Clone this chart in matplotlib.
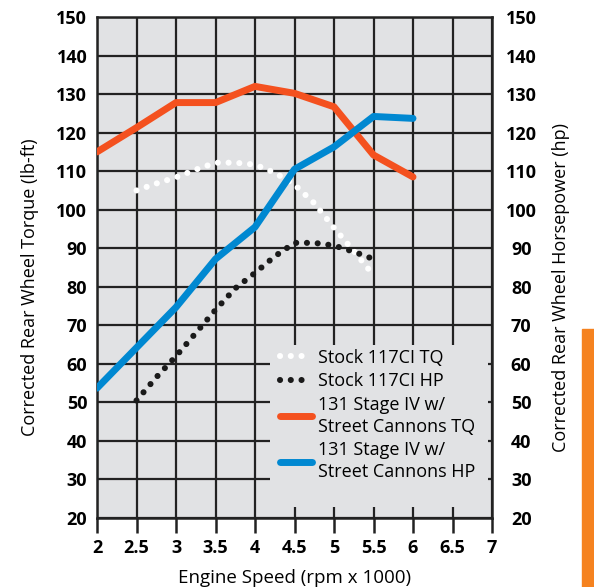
import matplotlib.pyplot as plt
from matplotlib.patches import Rectangle

# engine speed (rpm x 1000)
rpm = [2, 2.5, 3, 3.5, 4, 4.5, 5, 5.5, 6]
stage4_tq = [115, 121.3, 127.8, 127.8, 132, 130.2, 126.7, 114.2, 108.5]
stage4_hp = [53.7, 64.2, 74.7, 87.2, 95.5, 110.5, 116.3, 124.2, 123.7]

stock_rpm = [2.5, 2.75, 3, 3.25, 3.5, 3.75, 4, 4.25, 4.5, 4.75, 5, 5.25, 5.5]
stock_tq = [105, 106.8, 108.4, 110.4, 112.2, 112.2, 111.7, 109.6, 106.5, 101.7, 95.3, 89.3, 83]
stock_hp = [50.5, 56.5, 62, 68, 74, 79.6, 83.6, 87.9, 91.4, 91.4, 90.7, 89.1, 87.2]

labels = ['Stock 117CI TQ', 'Stock 117CI HP',
          '131 Stage IV w/\nStreet Cannons TQ', '131 Stage IV w/\nStreet Cannons HP']
xticks = [2, 2.5, 3, 3.5, 4, 4.5, 5, 5.5, 6, 6.5, 7]
xticklabels = ['2', '2.5', '3', '3.5', '4', '4.5', '5', '5.5', '6', '6.5', '7']
yticks = list(range(20, 151, 10))

bg = '#e1e2e4'
orange = '#f4511f'
blue = '#0088d1'
tick_font = dict(family='Open Sans', weight='bold', size=13)
label_font = 'Open Sans'

fig = plt.figure(figsize=(5.94, 5.87), dpi=100)
ax = fig.add_axes([0.1633, 0.1175, 0.665, 0.8535])
ax.set_facecolor(bg)

dots = (0, (0.01, 1.75))
ax.plot(stock_rpm, stock_tq, color='white', lw=4.4, ls=dots,
        dash_capstyle='round', label=labels[0], zorder=3)
ax.plot(stock_rpm, stock_hp, color='#1a1a1a', lw=4.4, ls=dots,
        dash_capstyle='round', label=labels[1], zorder=3)
ax.plot(rpm, stage4_tq, color=orange, lw=5, solid_capstyle='round',
        label=labels[2], zorder=3)
ax.plot(rpm, stage4_hp, color=blue, lw=5, solid_capstyle='round',
        label=labels[3], zorder=3)

ax.set_xlim(2, 7)
ax.set_ylim(20, 150)
ax.set_xticks(xticks)
ax.set_xticklabels(xticklabels, fontdict=tick_font)
ax.set_yticks(yticks)
ax.set_yticklabels([str(v) for v in yticks], fontdict=tick_font)
ax.grid(True, color='#222222', lw=1.6, zorder=1)
ax.set_axisbelow(True)
ax.tick_params(axis='x', direction='out', length=11, width=1.8, color='#222222', pad=4)
ax.tick_params(axis='y', length=0, pad=7)
for s in ax.spines.values():
    s.set_color('#222222')
    s.set_linewidth(1.8)

ax2 = ax.twinx()
ax2.set_ylim(20, 150)
ax2.set_yticks(yticks)
ax2.set_yticklabels([str(v) for v in yticks], fontdict=tick_font, ha='center')
ax2.tick_params(axis='y', length=0, pad=21)
for s in ax2.spines.values():
    s.set_visible(False)

ax.set_xlabel('Engine Speed (rpm x 1000)', family=label_font, size=13.5, labelpad=9)
ax.set_ylabel('Corrected Rear Wheel Torque (lb-ft)', family=label_font, size=13)
ax.yaxis.set_label_coords(-0.148, 0.461)
ax2.set_ylabel('Corrected Rear Wheel Horsepower (hp)', family=label_font, size=13)
ax2.yaxis.set_label_coords(1.152, 0.461)

# plain grey panel behind the legend, hiding the grid there
ax.add_patch(Rectangle((0.438, 0.022), 0.552, 0.323, transform=ax.transAxes,
                       facecolor=bg, edgecolor='none', zorder=2))
leg = ax.legend(loc='upper left', bbox_to_anchor=(0.452, 0.347),
                frameon=False, handlelength=1.75, handletextpad=0.35,
                labelspacing=0.3, borderpad=0.25, borderaxespad=0,
                prop={'family': label_font, 'size': 13})
for t in leg.get_texts():
    t.set_linespacing(1.3)
leg.set_zorder(4)

# orange sidebar tab
fig.patches.append(Rectangle((582 / 594, 0), 12 / 594, 258 / 587,
                             transform=fig.transFigure, color='#f5821f', zorder=0))

fig.savefig('out.png', dpi=100)
